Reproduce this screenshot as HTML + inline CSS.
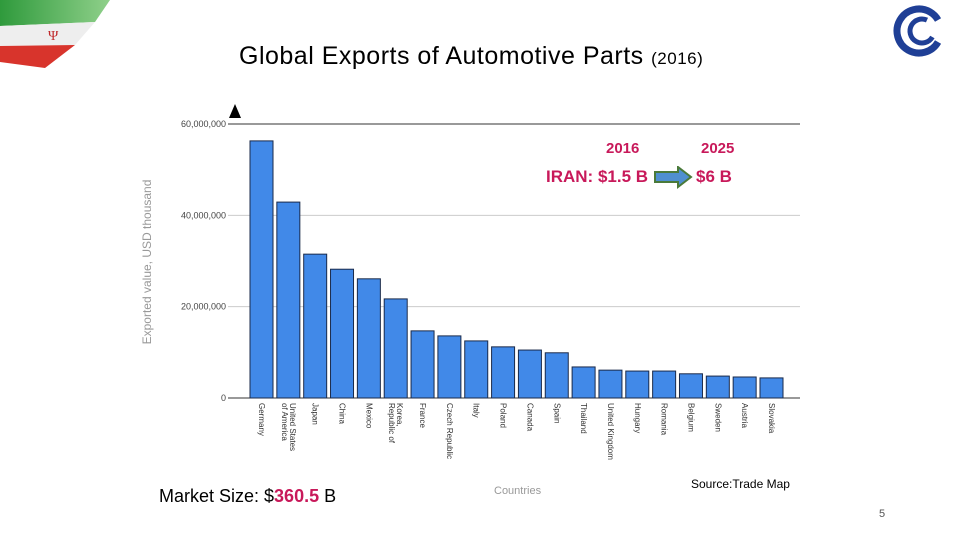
<!DOCTYPE html>
<html><head><meta charset="utf-8">
<style>
body{margin:0;width:960px;height:540px;background:#fff;overflow:hidden;position:relative;font-family:"Liberation Sans",sans-serif}
.t{position:absolute;white-space:nowrap}
</style></head>
<body>
<svg width="120" height="75" style="position:absolute;left:0;top:0">
<defs><linearGradient id="g" x1="0" y1="0" x2="1" y2="0"><stop offset="0" stop-color="#2f9a3c"/><stop offset="1" stop-color="#8fd08a"/></linearGradient></defs>
<polygon points="0,0 110,0 95,22 0,26" fill="url(#g)"/>
<polygon points="0,26 95,22 75,45 0,46" fill="#eeeeee"/>
<polygon points="0,46 75,45 45,68 0,62" fill="#d8342c"/>
<text x="48" y="40" font-size="14" fill="#c0282a" font-family="Liberation Serif,serif">Ψ</text>
</svg>
<svg width="60" height="60" style="position:absolute;left:892;top:4">
<circle cx="27" cy="27" r="22" fill="none" stroke="#1f3f96" stroke-width="7" stroke-dasharray="115 30" transform="rotate(30 27 27)"/>
<circle cx="30" cy="27" r="12" fill="none" stroke="#1f3f96" stroke-width="5" stroke-dasharray="55 25" transform="rotate(30 30 27)"/>
</svg>
<div class="t" style="left:239px;top:42px;font-size:25px;color:#000;letter-spacing:0.5px">Global Exports of Automotive Parts <span style="font-size:17px">(2016)</span></div>

<svg id="chart" width="960" height="540" style="position:absolute;left:0;top:0"></svg>

<div class="t" style="left:606px;top:140px;font-size:15px;color:#c8195a;font-weight:bold">2016</div>
<div class="t" style="left:701px;top:140px;font-size:15px;color:#c8195a;font-weight:bold">2025</div>
<div class="t" style="left:546px;top:167px;font-size:17px;color:#c8195a;font-weight:bold">IRAN: $1.5 B</div>
<svg width="40" height="24" style="position:absolute;left:654px;top:166px"><polygon points="1,6 24,6 24,1 37,11 24,21 24,16 1,16" fill="#4f8fd0" stroke="#4a7a3a" stroke-width="2"/></svg>
<div class="t" style="left:696px;top:167px;font-size:17px;color:#c8195a;font-weight:bold">$6 B</div>
<div class="t" style="left:159px;top:486px;font-size:18px;color:#000">Market Size: $<span style="color:#c8195a;font-weight:bold">360.5</span> B</div>
<div class="t" style="left:494px;top:485px;font-size:11px;color:#999">Countries</div>
<div class="t" style="left:691px;top:477px;font-size:12px;color:#000">Source:Trade Map</div>
<div class="t" style="left:879px;top:508px;font-size:11px;color:#555">5</div>
<script>
const categories=["Germany","United States|of America","Japan","China","Mexico","Korea,|Republic of","France","Czech Republic","Italy","Poland","Canada","Spain","Thailand","United Kingdom","Hungary","Romania","Belgium","Sweden","Austria","Slovakia"];
const values=[56.3,42.9,31.5,28.2,26.1,21.7,14.7,13.6,12.5,11.2,10.5,9.9,6.8,6.1,5.9,5.9,5.3,4.8,4.6,4.4];
const ticks=[0,20,40,60];
const tickLabels=["0","20,000,000","40,000,000","60,000,000"];
const svg=document.getElementById('chart');const NS='http://www.w3.org/2000/svg';
const y=v=>398-v*(274/60);
function mk(t,a){const e=document.createElementNS(NS,t);for(const k in a)e.setAttribute(k,a[k]);svg.appendChild(e);return e;}
ticks.forEach((t,i)=>{
 const l=mk('line',{x1:228,x2:800,y1:y(t),y2:y(t),stroke:i==3||i==0?'#333':'#ccc','stroke-width':1});
 
 
 const tx=mk('text',{x:226,y:y(t)+3,'text-anchor':'end','font-size':9,fill:'#444'});
 tx.textContent=tickLabels[i];
 
 
});
const ar=mk('polygon',{points:'229,118 235,104 241,118',fill:'#000'});


const yt=mk('text',{x:0,y:0,transform:'translate(151,262) rotate(-90)','text-anchor':'middle','font-size':12,fill:'#999'});
yt.textContent='Exported value, USD thousand';


const pitch=(760-250)/(categories.length-1);
categories.forEach((c,i)=>{
 const bx=250+i*pitch;
 const r=mk('rect',{x:bx,y:y(values[i]),width:23,height:398-y(values[i]),fill:'#4189e8',stroke:'#1a2a4a','stroke-width':1});
 
 
 const parts=c.split('|');
 parts.forEach((p,j)=>{
  const t=mk('text',{x:0,y:0,transform:`translate(${bx+9+(parts.length-1)*4-j*8},403) rotate(90)`,'font-size':8,fill:'#333'});
  t.textContent=p;
  
  
 });
});
</script>
</body></html>
